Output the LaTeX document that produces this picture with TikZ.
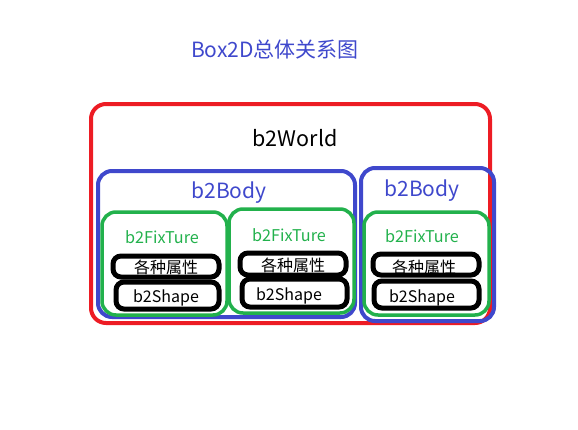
\documentclass[tikz,border=0pt]{standalone}
\usepackage{fontspec}
\setmainfont{Noto Sans CJK SC}
\usepackage{tikz}
\definecolor{paintred}{HTML}{ED1C24}
\definecolor{paintblue}{HTML}{3F48CC}
\definecolor{paintgreen}{HTML}{22B14C}
\tikzset{
  worldbox/.style={draw=paintred,line width=4pt,rounded corners=15pt},
  bodybox/.style={draw=paintblue,line width=4pt,rounded corners=14pt},
  fixbox/.style={draw=paintgreen,line width=3.5pt,rounded corners=14pt},
  partbox/.style={draw=black,line width=5pt,rounded corners=8pt},
  bodytext/.style={text=paintblue,font=\fontsize{21}{24}\selectfont},
  fixtext/.style={text=paintgreen,font=\fontsize{16.2}{18}\selectfont},
  parttext/.style={text=black,font=\fontsize{16}{18}\selectfont}
}
\begin{document}
\begin{tikzpicture}
[x=1pt,y=-1pt]
\useasboundingbox (0,0) rectangle (578,429);
\node (title) at (275,50) [text=paintblue,font=\fontsize{21}{24}\selectfont] {Box2D总体关系图};
%% world
\draw[worldbox] (91,104) rectangle (490,323); %% b2World
\node (world) at (295,138) [font=\fontsize{21.5}{24}\selectfont] {b2World};
%% first body
\draw[bodybox] (98,171) rectangle (355,317); %% body A
\node (bodyA) at (229,193) [bodytext] {b2Body};
\draw[fixbox] (102,212) rectangle (227,315); %% fixture A1
\node (fixA1) at (162,237) [fixtext] {b2FixTure};
\draw[partbox] (113,256) rectangle (219,277);
\node (attrA1) at (166,267) [parttext] {各种属性};
\draw[partbox] (116,282) rectangle (219,309);
\node (shapeA1) at (166,298) [parttext] {b2Shape};
\draw[fixbox] (229,209) rectangle (354,313); %% fixture A2
\node (fixA2) at (289,235) [fixtext] {b2FixTure};
\draw[partbox] (240,253) rectangle (346,275);
\node (attrA2) at (293,265) [parttext] {各种属性};
\draw[partbox] (242,279) rectangle (347,307);
\node (shapeA2) at (289,296) [parttext] {b2Shape};
%% second body
\draw[bodybox] (361,168) rectangle (494,321); %% body B
\node (bodyB) at (422,191) [bodytext] {b2Body};
\draw[fixbox] (364,212) rectangle (489,315); %% fixture B1
\node (fixB1) at (422,236) [fixtext] {b2FixTure};
\draw[partbox] (373,254) rectangle (479,275);
\node (attrB1) at (424,267) [parttext] {各种属性};
\draw[partbox] (374,281) rectangle (479,308);
\node (shapeB1) at (422,298) [parttext] {b2Shape};
\end{tikzpicture}
\end{document}
